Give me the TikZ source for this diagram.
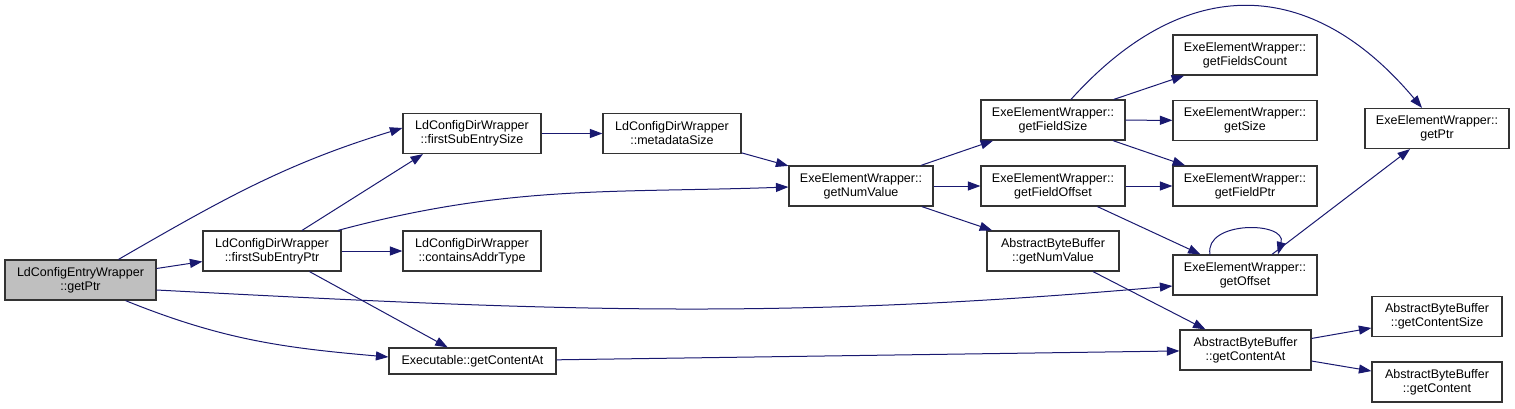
\documentclass[tikz,border=0pt]{standalone}
\usepackage{fontspec}
\setmainfont{Liberation Sans}
\usetikzlibrary{arrows.meta}
\definecolor{edgeblue}{HTML}{191970}
\definecolor{rootgray}{HTML}{BFBFBF}

\begin{document}
\begin{tikzpicture}[x=1pt, y=-1pt,
    fn/.style={rectangle, draw=black!80, line width=1.2pt, fill=white, minimum height=40pt, inner sep=1pt, align=center, font=\fontsize{12.5}{14}\selectfont},
    call/.style={-{Triangle[length=12.5pt,width=9pt]}, draw=edgeblue, line width=1pt}
]
\useasboundingbox (0,0) rectangle (1515,408);

% Functions
\node[fn, fill=rootgray, minimum width=151pt] (root) at (80.5,280) {LdConfigEntryWrapper\\::getPtr};
\node[fn, minimum width=138pt] (fsePtr) at (272,251) {LdConfigDirWrapper\\::firstSubEntryPtr};
\node[fn, minimum width=138pt] (fseSize) at (472,133.5) {LdConfigDirWrapper\\::firstSubEntrySize};
\node[fn, minimum width=138pt] (mdSize) at (672,133.5) {LdConfigDirWrapper\\::metadataSize};
\node[fn, minimum width=138pt] (containsAddr) at (472,251) {LdConfigDirWrapper\\::containsAddrType};
\node[fn, minimum width=167pt, minimum height=26pt] (exeContentAt) at (472.5,361) {Executable::getContentAt};
\node[fn, minimum width=144pt] (numValue) at (861,186) {ExeElementWrapper::\\getNumValue};
\node[fn, minimum width=144pt] (fieldSize) at (1053,120) {ExeElementWrapper::\\getFieldSize};
\node[fn, minimum width=144pt] (fieldOffset) at (1053,186) {ExeElementWrapper::\\getFieldOffset};
\node[fn, minimum width=132pt] (abbNumValue) at (1053,251) {AbstractByteBuffer\\::getNumValue};
\node[fn, minimum width=144pt] (fieldsCount) at (1245,55) {ExeElementWrapper::\\getFieldsCount};
\node[fn, minimum width=144pt] (size) at (1245,120.5) {ExeElementWrapper::\\getSize};
\node[fn, minimum width=144pt] (fieldPtr) at (1245,186) {ExeElementWrapper::\\getFieldPtr};
\node[fn, minimum width=144pt] (offset) at (1245,275) {ExeElementWrapper::\\getOffset};
\node[fn, minimum width=144pt] (exePtr) at (1437,128.5) {ExeElementWrapper::\\getPtr};
\node[fn, minimum width=131pt] (abbContentAt) at (1245.5,350) {AbstractByteBuffer\\::getContentAt};
\node[fn, minimum width=130pt] (contentSize) at (1437,316.5) {AbstractByteBuffer\\::getContentSize};
\node[fn, minimum width=130pt] (content) at (1437,382) {AbstractByteBuffer\\::getContent};

% Calls
\draw[call] ([xshift=38pt]root.north) to[out=30, in=197] ([yshift=5.5pt]fseSize.west);
\draw[call] (root) -- (fsePtr);
\draw[call] ([yshift=-10pt]root.east) to[out=-3, in=185] ([yshift=-11pt]offset.west);
\draw[call] ([xshift=45pt]root.south) to[out=-22, in=175] ([yshift=4pt]exeContentAt.west);
\draw[call] ([xshift=30pt]fsePtr.north) -- ([xshift=-49pt]fseSize.south);
\draw[call] ([xshift=66pt]fsePtr.north) to[out=15, in=182] ([yshift=-1pt]numValue.west);
\draw[call] (fsePtr) -- (containsAddr);
\draw[call] (fsePtr) -- (exeContentAt);
\draw[call] (fseSize) -- (mdSize);
\draw[call] (mdSize) -- (numValue);
\draw[call] (numValue) -- (fieldSize);
\draw[call] (numValue) -- (fieldOffset);
\draw[call] (numValue) -- (abbNumValue);
\draw[call] ([xshift=18pt]fieldSize.north) to[out=48, in=130, looseness=1.25] ([xshift=-15pt]exePtr.north);
\draw[call] (fieldSize) -- (fieldsCount);
\draw[call] (fieldSize) -- (size);
\draw[call] (fieldSize) -- (fieldPtr);
\draw[call] (fieldOffset) -- (fieldPtr);
\draw[call] (fieldOffset) -- (offset);
\draw[call] (abbNumValue) -- (abbContentAt);
\draw[call] ([xshift=-35pt]offset.north) to[out=100, in=75, looseness=1.3] ([xshift=33pt]offset.north);
\draw[call] (offset) -- (exePtr);
\draw[call] (exeContentAt) -- (abbContentAt);
\draw[call] (abbContentAt) -- (contentSize);
\draw[call] (abbContentAt) -- (content);
\end{tikzpicture}
\end{document}
